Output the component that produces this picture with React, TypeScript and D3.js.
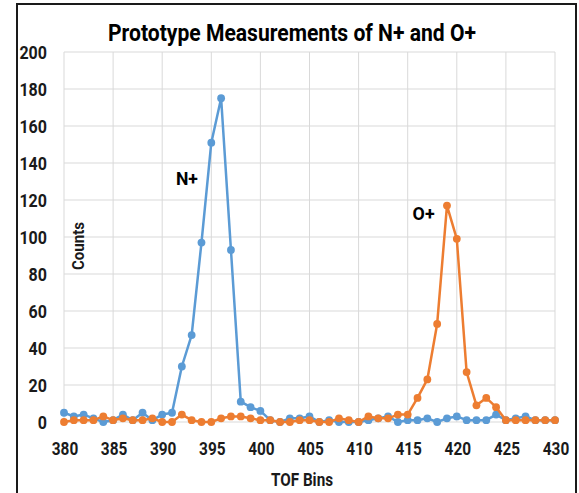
import React, { useEffect, useRef } from 'react';
import * as d3 from 'd3';

const tofBins = [
  380, 381, 382, 383, 384, 385, 386, 387, 388, 389, 390, 391, 392, 393, 394, 395, 396,
  397, 398, 399, 400, 401, 402, 403, 404, 405, 406, 407, 408, 409, 410, 411, 412, 413,
  414, 415, 416, 417, 418, 419, 420, 421, 422, 423, 424, 425, 426, 427, 428, 429, 430,
];

const nPlusCounts = [
  5, 3, 4, 2, 0, 1, 4, 1, 5, 1, 4, 5, 30, 47, 97, 151, 175,
  93, 11, 8, 6, 1, 0, 2, 2, 3, 0, 1, 0, 0, 0, 1, 2, 3,
  0, 1, 1, 2, 0, 2, 3, 1, 1, 1, 4, 1, 2, 3, 1, 1, 1,
];

const oPlusCounts = [
  0, 1, 1, 1, 3, 1, 2, 1, 1, 2, 0, 0, 4, 1, 0, 0, 2,
  3, 3, 2, 1, 1, 0, 0, 1, 1, 0, 0, 2, 1, 0, 3, 2, 2,
  4, 4, 13, 23, 53, 117, 99, 27, 9, 13, 8, 1, 1, 1, 1, 1, 1,
];

const xTicks = [380, 385, 390, 395, 400, 405, 410, 415, 420, 425, 430];
const yTicks = [0, 20, 40, 60, 80, 100, 120, 140, 160, 180, 200];

const series = [
  { name: 'N+', values: nPlusCounts, color: '#5b9bd5', labelBin: 391.4, labelY: 128 },
  { name: 'O+', values: oPlusCounts, color: '#ed7d31', labelBin: 415.5, labelY: 109 },
];

const FONT = "Roboto, 'Noto Sans', Arial, sans-serif";

export default function App() {
  const svgRef = useRef<SVGSVGElement | null>(null);

  useEffect(() => {
    if (!svgRef.current) return;
    const width = 579;
    const height = 493;
    const margin = { top: 52, right: 24, bottom: 71, left: 64 };

    const svg = d3.select(svgRef.current);
    svg.selectAll('*').remove();
    svg.attr('width', width).attr('height', height).attr('font-family', FONT);

    svg.append('rect').attr('width', width).attr('height', height).attr('fill', '#ffffff');

    // outer frame
    svg
      .append('rect')
      .attr('x', 17)
      .attr('y', 4)
      .attr('width', 559)
      .attr('height', 500)
      .attr('fill', 'none')
      .attr('stroke', '#1a1a1a')
      .attr('stroke-width', 2);

    const x = d3.scaleLinear().domain([380, 430]).range([margin.left, width - margin.right]);
    const y = d3.scaleLinear().domain([0, 200]).range([height - margin.bottom, margin.top]);

    // Grid
    const grid = svg.append('g').attr('stroke', '#d9d9d9').attr('stroke-width', 1);
    grid
      .selectAll('.hg')
      .data(yTicks)
      .enter()
      .append('line')
      .attr('x1', x(380))
      .attr('x2', x(430))
      .attr('y1', (d) => y(d))
      .attr('y2', (d) => y(d));
    grid
      .selectAll('.vg')
      .data(xTicks)
      .enter()
      .append('line')
      .attr('x1', (d) => x(d))
      .attr('x2', (d) => x(d))
      .attr('y1', y(0))
      .attr('y2', y(200));

    // Y tick labels (narrow, Calibri-like)
    svg
      .append('g')
      .selectAll('text')
      .data(yTicks)
      .enter()
      .append('text')
      .attr('x', 47)
      .attr('y', (d) => y(d) + 7)
      .attr('text-anchor', 'end')
      .attr('font-size', '19px')
      .attr('font-weight', 'bold')
      .attr('fill', '#1a1a1a')
      .attr('textLength', (d) => String(d).length * 9.2)
      .attr('lengthAdjust', 'spacingAndGlyphs')
      .text((d) => String(d));

    // X tick labels
    svg
      .append('g')
      .selectAll('text')
      .data(xTicks)
      .enter()
      .append('text')
      .attr('x', (d) => x(d) + 1)
      .attr('y', 455)
      .attr('text-anchor', 'middle')
      .attr('font-size', '19px')
      .attr('font-weight', 'bold')
      .attr('fill', '#1a1a1a')
      .attr('textLength', 26.5)
      .attr('lengthAdjust', 'spacingAndGlyphs')
      .text((d) => String(d));

    // Lines + markers
    const line = d3
      .line<number>()
      .x((_, i) => x(tofBins[i]))
      .y((d) => y(d));

    series.forEach((s) => {
      const g = svg.append('g');
      g.append('path')
        .attr('d', line(s.values) || '')
        .attr('fill', 'none')
        .attr('stroke', s.color)
        .attr('stroke-width', 2.5)
        .attr('stroke-linejoin', 'round');
      g.selectAll('circle')
        .data(s.values)
        .enter()
        .append('circle')
        .attr('cx', (_, i) => x(tofBins[i]))
        .attr('cy', (d) => y(d))
        .attr('r', 3.9)
        .attr('fill', s.color);
      svg
        .append('text')
        .attr('x', x(s.labelBin))
        .attr('y', y(s.labelY))
        .attr('font-size', '18px')
        .attr('font-weight', 'bold')
        .attr('fill', '#000000')
        .attr('textLength', 22)
        .attr('lengthAdjust', 'spacingAndGlyphs')
        .text(s.name);
    });

    // Title
    svg
      .append('text')
      .attr('x', 292)
      .attr('y', 41)
      .attr('text-anchor', 'middle')
      .attr('font-size', '24px')
      .attr('font-weight', 'bold')
      .attr('fill', '#000000')
      .attr('textLength', 368)
      .attr('lengthAdjust', 'spacingAndGlyphs')
      .text('Prototype Measurements of N+ and O+');

    // Axis titles
    svg
      .append('text')
      .attr('x', 302)
      .attr('y', 486)
      .attr('text-anchor', 'middle')
      .attr('font-size', '18px')
      .attr('font-weight', 'bold')
      .attr('fill', '#1a1a1a')
      .attr('textLength', 62)
      .attr('lengthAdjust', 'spacingAndGlyphs')
      .text('TOF Bins');

    svg
      .append('text')
      .attr('transform', `translate(84, 246) rotate(-90)`)
      .attr('text-anchor', 'middle')
      .attr('font-size', '16px')
      .attr('font-weight', 'bold')
      .attr('fill', '#1a1a1a')
      .attr('textLength', 48)
      .attr('lengthAdjust', 'spacingAndGlyphs')
      .text('Counts');
  }, []);

  return (
    <svg ref={svgRef} style={{ position: 'absolute', left: 0, top: 0, display: 'block' }} />
  );
}
